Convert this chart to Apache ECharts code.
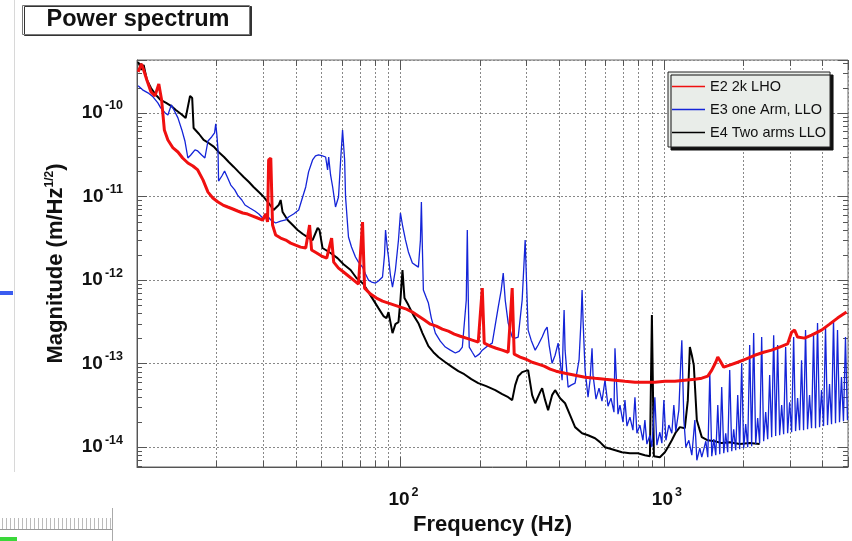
<!DOCTYPE html>
<html>
<head>
<meta charset="utf-8">
<script src="https://cdn.jsdelivr.net/npm/echarts@6/dist/echarts.min.js"></script>
<style>
  html, body { margin: 0; padding: 0; background: #fff; }
  #chart { width: 852px; height: 541px; }
</style>
</head>
<body>
<div id="chart"></div>
<script>
// Frequency range (Hz) and magnitude range (m/Hz^1/2)
const freqRange = [10, 5000];
const magRange = [5.8e-15, 4.3e-10];

// Minor grid / tick positions
const xMinorTicks = [20, 30, 40, 50, 60, 70, 80, 90, 200, 300, 400, 500, 600, 700, 800, 900, 2000, 3000, 4000];
const yMinorTicks = [6e-15, 7e-15, 8e-15, 9e-15,
  2e-14, 3e-14, 4e-14, 5e-14, 6e-14, 7e-14, 8e-14, 9e-14,
  2e-13, 3e-13, 4e-13, 5e-13, 6e-13, 7e-13, 8e-13, 9e-13,
  2e-12, 3e-12, 4e-12, 5e-12, 6e-12, 7e-12, 8e-12, 9e-12,
  2e-11, 3e-11, 4e-11, 5e-11, 6e-11, 7e-11, 8e-11, 9e-11,
  2e-10, 3e-10, 4e-10];

const seriesNames = ['E2 2k LHO', 'E3 one Arm, LLO', 'E4 Two arms LLO'];

// E2 2k LHO  [frequency Hz, magnitude]
const e2Lho = [
  [10.1,3.10e-10],[10.4,3.86e-10],[10.6,3.27e-10],[10.9,2.48e-10],[11.3,1.78e-10],[11.7,1.60e-10],
  [12.1,2.22e-10],[12.4,1.43e-10],[12.7,6.26e-11],[13.1,4.75e-11],[13.7,3.81e-11],[14.3,3.41e-11],
  [14.9,2.89e-11],[15.6,2.52e-11],[16.3,2.32e-11],[17.0,2.08e-11],[17.8,1.58e-11],[18.6,1.13e-11],
  [19.4,9.60e-12],[20.3,8.60e-12],[21.2,7.91e-12],[22.1,7.49e-12],[23.1,7.09e-12],[24.1,6.71e-12],
  [25.2,6.35e-12],[26.3,6.17e-12],[27.5,5.84e-12],[28.7,5.53e-12],[30.0,5.23e-12],[30.8,6.17e-12],
  [31.3,4.95e-12],[31.6,2.74e-11],[32.2,2.89e-11],[32.7,4.56e-12],[33.6,3.46e-12],[35.1,3.18e-12],
  [36.7,3.01e-12],[38.3,2.77e-12],[40.0,2.62e-12],[41.8,2.48e-12],[43.7,2.42e-12],[45.2,4.56e-12],
  [46.0,2.29e-12],[48.1,2.11e-12],[50.2,1.94e-12],[52.5,1.83e-12],[54.8,3.18e-12],[55.8,1.64e-12],
  [58.2,1.39e-12],[60.8,1.25e-12],[63.5,1.12e-12],[66.4,1.0e-12],[69.3,8.96e-13],[71.8,4.95e-12],
  [73.1,8.02e-13],[77.0,6.80e-13],[81.1,6.09e-13],[85.5,5.60e-13],[90.1,5.30e-13],[94.9,5.02e-13],
  [100,4.75e-13],[105.4,4.49e-13],[111,4.14e-13],[117,3.71e-13],[123.3,3.32e-13],[129.9,2.97e-13],
  [136.9,2.81e-13],[144.2,2.59e-13],[152,2.45e-13],[160.1,2.26e-13],[168.8,2.13e-13],[177.8,2.02e-13],
  [187.4,1.91e-13],[197.4,1.81e-13],[204.5,8.02e-13],[208,1.76e-13],[219.3,1.62e-13],[231,1.53e-13],
  [243.4,1.45e-13],[256.5,1.37e-13],[265.6,8.02e-13],[270.3,1.30e-13],[284.8,1.20e-13],[300.1,1.13e-13],
  [316.2,1.04e-13],[333.2,9.86e-14],[351.1,9.33e-14],[370,8.59e-14],[389.9,8.13e-14],[421.7,7.69e-14],
  [460.2,7.28e-14],[502.2,6.89e-14],[548,6.70e-14],[597.7,6.52e-14],[652.2,6.35e-14],[711.6,6.17e-14],
  [776.6,6.00e-14],[847.2,6.00e-14],[924.5,6.00e-14],[1009,6.17e-14],[1101,6.17e-14],[1201,6.35e-14],
  [1311,6.52e-14],[1393,6.70e-14],[1468,7.08e-14],[1520,8.36e-14],[1574,1.04e-13],[1602,1.20e-13],
  [1630,1.10e-13],[1688,9.08e-14],[1778,9.59e-14],[1907,1.04e-13],[2045,1.13e-13],[2212,1.26e-13],
  [2392,1.37e-13],[2565,1.45e-13],[2750,1.58e-13],[2949,1.72e-13],[3053,2.38e-13],[3135,2.52e-13],
  [3218,2.08e-13],[3420,2.02e-13],[3636,2.19e-13],[3968,2.52e-13],[4256,2.97e-13],[4562,3.51e-13],
  [4935,4.14e-13]
];

// E3 one Arm, LLO
const e3OneArm = [
  [10.1,2.11e-10],[10.5,1.89e-10],[11.0,1.74e-10],[11.5,1.56e-10],[12.0,1.32e-10],[12.3,1.15e-10],
  [12.8,1.0e-10],[13.1,9.47e-11],[13.5,1.25e-10],[13.8,1.09e-10],[14.3,8.72e-11],[14.8,6.26e-11],
  [15.2,4.62e-11],[15.6,2.89e-11],[16.0,3.14e-11],[16.6,3.61e-11],[17.0,3.51e-11],[17.6,3.14e-11],
  [18.1,2.89e-11],[18.6,4.62e-11],[19.2,5.16e-11],[19.7,5.77e-11],[19.9,7.39e-11],[20.1,5.46e-11],
  [20.3,3.61e-11],[20.4,1.53e-11],[21.0,1.76e-11],[21.5,2.02e-11],[22.1,1.67e-11],[22.7,1.37e-11],
  [23.5,1.20e-11],[24.1,1.04e-11],[25.0,9.09e-12],[25.7,7.92e-12],[26.8,7.29e-12],[28.0,6.71e-12],
  [29.0,6.18e-12],[30.0,5.53e-12],[30.8,6.18e-12],[32.2,5.24e-12],[33.6,4.82e-12],[35.1,5.09e-12],
  [36.7,5.24e-12],[37.6,5.69e-12],[39.3,6.18e-12],[41.1,6.90e-12],[42.2,9.09e-12],[43.7,1.30e-11],
  [44.8,1.97e-11],[46.4,2.74e-11],[47.6,3.06e-11],[48.9,3.14e-11],[50.6,3.06e-11],[52.0,2.97e-11],
  [52.9,2.08e-11],[53.4,2.97e-11],[54.3,1.81e-11],[55.3,1.30e-11],[56.7,7.49e-12],[58.2,9.87e-12],
  [59.3,2.74e-11],[60.3,6.26e-11],[61.4,2.74e-11],[61.9,9.87e-12],[63.5,3.28e-12],[65.2,2.49e-12],
  [67.5,1.89e-12],[69.3,1.64e-12],[71.8,1.43e-12],[73.7,1.18e-12],[75.6,1.0e-12],[77.7,9.47e-13],
  [80.4,9.22e-13],[82.5,9.74e-13],[85.5,1.09e-12],[87.0,1.99e-12],[87.8,3.97e-12],[89.3,2.29e-12],
  [90.1,1.89e-12],[91.6,1.15e-12],[93.3,8.25e-13],[95.7,1.32e-12],[98.3,3.02e-12],[100,6.35e-12],
  [101.8,4.56e-12],[104.5,3.02e-12],[107.2,2.17e-12],[111.0,1.60e-12],[114.0,1.51e-12],[117.0,1.43e-12],
  [119.1,3.02e-12],[120.1,8.60e-12],[121.2,2.29e-12],[122.2,7.60e-13],[125.5,6.09e-13],[127.7,5.31e-13],
  [131.0,3.51e-13],[135.7,2.32e-13],[141.7,1.86e-13],[148.1,1.58e-13],[154.7,1.45e-13],[161.6,1.34e-13],
  [167.3,1.41e-13],[171.8,1.58e-13],[177.8,5.77e-13],[179.4,3.97e-12],[181.0,5.77e-13],[182.5,1.58e-13],
  [187.4,1.37e-13],[192.3,1.20e-13],[199.2,1.30e-13],[204.5,1.45e-13],[213.6,1.62e-13],[223.1,1.76e-13],
  [229.0,2.89e-13],[235.1,4.75e-13],[241.3,7.60e-13],[245.6,1.21e-12],[249.9,5.77e-13],[256.5,3.06e-13],
  [265.6,2.08e-13],[272.7,2.02e-13],[279.9,2.08e-13],[289.8,5.77e-13],[294.9,1.74e-12],[297.5,3.02e-12],
  [300.1,1.32e-12],[305.3,2.52e-13],[313.5,1.91e-13],[324.7,1.45e-13],[333.2,1.67e-13],[345.1,2.08e-13],
  [354.2,2.52e-13],[360.5,2.74e-13],[366.8,1.67e-13],[376.4,1.01e-13],[386.5,1.26e-13],[396.8,1.76e-13],
  [403.7,1.10e-13],[410.9,6.35e-14],[414.5,1.91e-13],[418.1,4.38e-13],[421.7,1.45e-13],[433.0,5.24e-14],
  [444.5,5.53e-14],[460.2,5.85e-14],[476.4,1.10e-13],[484.8,3.32e-13],[489.3,7.60e-13],[493.4,3.32e-13],
  [502.2,8.37e-14],[515.4,3.97e-14],[524.5,6.35e-14],[533.7,1.53e-13],[538.4,7.29e-14],
  [552.6,3.76e-14],[567.3,5.09e-14],[582.3,3.56e-14],[597.7,6.35e-14],[613.7,3.10e-14],[629.9,3.87e-14],
  [646.6,2.63e-14],[652.2,1.53e-13],[669.7,2.49e-14],[681.3,3.19e-14],[699.4,1.99e-14],[711.7,3.66e-14],
  [724.2,1.79e-14],[743.4,2.29e-14],[763.1,1.60e-14],[776.6,3.97e-14],[790.1,1.47e-14],[811.1,1.84e-14],
  [832.6,1.21e-14],[847.2,2.11e-14],[862.2,1.09e-14],[885.1,1.39e-14],[900.6,1.0e-14],[924.5,3.97e-14],
  [940.8,1.06e-14],[965.6,1.51e-14],[982.7,1.12e-14],[1000,3.66e-14],[1018,1.21e-14],[1044.5,1.84e-14],
  [1072,1.47e-14],[1091,3.19e-14],[1110,1.56e-14],[1140,2.78e-14],[1160,1.10e-13],[1170,1.91e-13],
  [1191,2.11e-14],[1212,1.0e-14],[1244,1.21e-14],[1277,8.03e-15],[1311,2.11e-14],[1334,6.99e-15],
  [1369,9.74e-15],[1393,7.60e-15],
  [1417,7.60e-15],[1443,1.18e-14],[1468,7.60e-15],[1494,7.70e-14],[1520,7.81e-15],[1547,1.25e-14],
  [1574,8.03e-15],[1602,3.19e-14],[1630,8.25e-15],[1658,5.24e-14],[1688,8.48e-15],[1717,1.47e-14],
  [1747,8.72e-15],[1778,8.37e-14],[1810,8.97e-15],[1841,1.64e-14],[1874,9.22e-15],[1907,4.20e-14],
  [1940,9.47e-15],[1974,1.01e-13],[2009,9.74e-15],[2045,1.89e-14],[2081,1.0e-14],[2117,1.67e-13],
  [2154,1.03e-14],[2192,2.32e-13],[2231,1.09e-14],[2270,2.23e-14],[2310,1.12e-14],[2351,2.08e-13],
  [2392,1.18e-14],[2435,2.63e-14],[2478,1.25e-14],[2521,7.29e-14],[2566,1.32e-14],[2611,2.19e-13],
  [2657,1.36e-14],[2703,1.67e-13],[2751,1.39e-14],[2800,3.19e-14],[2849,1.43e-14],[2899,1.58e-13],
  [2950,1.47e-14],[3002,3.46e-14],[3055,1.51e-14],[3109,2.08e-13],[3162,1.56e-14],[3218,3.87e-14],
  [3275,1.60e-14],[3332,1.10e-13],[3391,1.60e-14],[3450,2.52e-13],[3511,1.64e-14],[3573,4.20e-14],
  [3636,1.69e-14],[3700,2.19e-13],[3765,1.69e-14],[3831,3.06e-13],[3899,1.74e-14],[3968,4.82e-14],
  [4038,1.79e-14],[4108,2.74e-13],[4181,1.84e-14],[4255,5.69e-14],[4330,1.89e-14],[4405,3.32e-13],
  [4483,1.94e-14],[4562,2.52e-13],[4642,1.99e-14],[4723,6.90e-14],[4806,2.05e-14],[4891,2.08e-13],
  [4977,2.11e-14]
];

// E4 Two arms LLO
const e4TwoArms = [
  [10.1,4.08e-10],[10.4,3.27e-10],[10.6,3.76e-10],[10.9,2.48e-10],[11.3,1.99e-10],[11.8,1.64e-10],
  [12.3,1.43e-10],[12.9,1.32e-10],[13.5,1.21e-10],[14.0,1.09e-10],[14.7,9.73e-11],[15.3,8.71e-11],
  [15.9,1.60e-10],[16.2,1.51e-10],[16.4,6.61e-11],[17.2,5.60e-11],[17.9,4.75e-11],[18.7,4.37e-11],
  [19.6,3.92e-11],[20.4,3.41e-11],[21.4,2.97e-11],[22.3,2.59e-11],[23.3,2.26e-11],[24.3,1.97e-11],
  [25.4,1.71e-11],[26.6,1.49e-11],[27.7,1.30e-11],[29.0,1.13e-11],[30.3,9.86e-12],[31.6,8.36e-12],
  [33.0,6.89e-12],[34.5,7.91e-12],[35.1,9.08e-12],[35.7,6.52e-12],[37.3,5.23e-12],[39.0,4.56e-12],
  [40.7,3.97e-12],[42.6,3.56e-12],[44.4,3.27e-12],[46.4,3.01e-12],[48.5,4.20e-12],[49.3,3.97e-12],
  [50.6,2.42e-12],[54.3,2.11e-12],[57.7,1.83e-12],[60.8,1.55e-12],[64.7,1.32e-12],[68.1,1.06e-12],
  [72.4,8.96e-13],[75.6,7.18e-13],[79.0,5.76e-13],[82.5,4.62e-13],[86.2,3.71e-13],[88.5,3.51e-13],
  [90.1,4.14e-13],[93.3,2.32e-13],[95.7,2.97e-13],[98.3,3.14e-13],[100,5.76e-13],[101.8,1.32e-12],
  [103.6,6.09e-13],[107.2,5.02e-13],[112.0,3.81e-13],[117.0,3.05e-13],[121.2,2.32e-13],[127.7,1.62e-13],
  [133.4,1.37e-13],[139.3,1.20e-13],[148.1,1.04e-13],[157.4,9.08e-14],[165.9,8.13e-14],[174.7,7.48e-14],
  [185.8,6.52e-14],[197.4,5.84e-14],[211.7,5.38e-14],[229.0,4.82e-14],[243.4,4.31e-14],[256.5,3.97e-14],
  [265.6,3.66e-14],[272.7,5.53e-14],[279.9,7.08e-14],[289.8,7.91e-14],[305.3,8.36e-14],[316.2,4.20e-14],
  [324.7,3.36e-14],[339.1,4.56e-14],[345.1,5.09e-14],[354.2,3.66e-14],[363.6,2.77e-14],[376.4,4.20e-14],
  [386.5,4.82e-14],[403.7,3.86e-14],[421.7,3.36e-14],[440.5,2.42e-14],[460.2,1.74e-14],[489.3,1.47e-14],
  [515.4,1.39e-14],[548,1.28e-14],[572.3,1.15e-14],[597.7,1.0e-14],[635.3,9.46e-15],[693.3,8.71e-15],
  [743.3,8.47e-15],[797.0,8.47e-15],[847.2,8.02e-15],[885.1,7.80e-15],[900.6,3.81e-13],[916.5,7.80e-15],
  [965.6,7.59e-15],[1009,8.71e-15],[1036,1.0e-14],[1072,1.21e-14],[1110,1.51e-14],[1150,1.74e-14],
  [1201,1.69e-14],[1233,3.66e-14],[1255,1.58e-13],[1277,1.26e-13],[1299,9.59e-14],[1334,2.10e-14],
  [1393,1.32e-14],[1468,1.21e-14],[1561,1.18e-14],[1659,1.12e-14],[1778,1.15e-14],[1941,1.09e-14],
  [2118,1.12e-14],[2310,1.09e-14]
];

const FONT = '"Liberation Sans", Arial, sans-serif';

function powerLabel(v, skip) {
  const lg = Math.log10(v);
  const e = Math.round(lg);
  if (Math.abs(lg - e) > 1e-6 || skip.indexOf(e) >= 0) return '';
  return '{b|10}{s|' + e + '}';
}

const labelRich = {
  b: { fontFamily: FONT, fontWeight: 'bold', fontSize: 19, color: '#111', padding: [0, 0, 0, 6] },
  s: { fontFamily: FONT, fontWeight: 'bold', fontSize: 12.5, color: '#111', padding: [0, 0, 14, 2] }
};

const chart = echarts.init(document.getElementById('chart'), null, { renderer: 'canvas' });

const gridBox = { left: 137, top: 60, width: 711, height: 407 };

const option = {
  animation: false,
  backgroundColor: '#fff',
  grid: Object.assign({
    show: true, borderColor: '#666', borderWidth: 1, backgroundColor: '#fff',
    containLabel: false, outerBoundsMode: 'none'
  }, gridBox),
  legend: {
    data: seriesNames,
    orient: 'vertical',
    left: 668, top: 72,
    icon: 'rect',
    itemWidth: 33, itemHeight: 1.5,
    itemGap: 8,
    padding: [7, 4, 7, 4],
    backgroundColor: '#e9ede9',
    borderColor: '#222', borderWidth: 1,
    shadowColor: '#111', shadowOffsetX: 3, shadowOffsetY: 3, shadowBlur: 0,
    textStyle: { fontFamily: FONT, fontSize: 14.5, color: '#111' }
  },
  xAxis: [{
    type: 'log', logBase: 10, min: freqRange[0], max: freqRange[1],
    axisLine: { show: true, lineStyle: { color: '#555' } },
    axisTick: { show: true, inside: true, length: 10, lineStyle: { color: '#555' } },
    splitLine: { show: true, lineStyle: { color: '#888', type: [2, 2] } },
    axisLabel: { margin: 19, formatter: v => powerLabel(v, [1]), rich: labelRich },
    name: 'Frequency (Hz)', nameLocation: 'middle', nameGap: 45,
    nameTextStyle: { fontFamily: FONT, fontWeight: 'bold', fontSize: 22, color: '#111' }
  }, {
    type: 'log', logBase: 10, min: freqRange[0], max: freqRange[1], position: 'top',
    axisLine: { show: false },
    axisTick: { show: true, inside: true, length: 10, lineStyle: { color: '#555' } },
    axisLabel: { show: false }, splitLine: { show: false }
  }],
  yAxis: [{
    type: 'log', logBase: 10, min: magRange[0], max: magRange[1],
    axisLine: { show: true, lineStyle: { color: '#555' } },
    axisTick: { show: true, inside: true, length: 10, lineStyle: { color: '#555' } },
    splitLine: { show: true, lineStyle: { color: '#888', type: [2, 2] } },
    axisLabel: { margin: 14, formatter: v => powerLabel(v, []), rich: labelRich },
    name: '{n|Magnitude (m/Hz}{s|1/2}{n|)}', nameLocation: 'middle', nameGap: 69,
    nameTextStyle: {
      rich: {
        n: { fontFamily: FONT, fontWeight: 'bold', fontSize: 22, color: '#111' },
        s: { fontFamily: FONT, fontWeight: 'bold', fontSize: 12, color: '#111', padding: [0, 0, 12, 0] }
      }
    }
  }, {
    type: 'log', logBase: 10, min: magRange[0], max: magRange[1], position: 'right',
    axisLine: { show: false },
    axisTick: { show: true, inside: true, length: 10, lineStyle: { color: '#555' } },
    axisLabel: { show: false }, splitLine: { show: false }
  }],
  series: [
    {
      // vertical minor grid lines with their ticks (top and bottom)
      type: 'custom', silent: true, z: 1, xAxisIndex: 0, yAxisIndex: 0,
      data: xMinorTicks.map(f => [f, magRange[0]]),
      renderItem(params, api) {
        const cs = params.coordSys;
        const x = Math.round(api.coord([api.value(0), magRange[0]])[0]) + 0.5;
        return {
          type: 'group', children: [
            { type: 'line', shape: { x1: x, y1: cs.y, x2: x, y2: cs.y + cs.height }, style: { stroke: '#888', lineWidth: 1, lineDash: [2, 2] } },
            { type: 'line', shape: { x1: x, y1: cs.y + cs.height, x2: x, y2: cs.y + cs.height - 6 }, style: { stroke: '#555', lineWidth: 1 } },
            { type: 'line', shape: { x1: x, y1: cs.y, x2: x, y2: cs.y + 6 }, style: { stroke: '#555', lineWidth: 1 } }
          ]
        };
      }
    },
    {
      // minor ticks on left and right frame
      type: 'custom', silent: true, z: 1, xAxisIndex: 0, yAxisIndex: 0,
      data: yMinorTicks.map(v => [freqRange[0], v]),
      renderItem(params, api) {
        const cs = params.coordSys;
        const y = Math.round(api.coord([freqRange[0], api.value(1)])[1]) + 0.5;
        return {
          type: 'group', children: [
            { type: 'line', shape: { x1: cs.x, y1: y, x2: cs.x + 5, y2: y }, style: { stroke: '#555', lineWidth: 1 } },
            { type: 'line', shape: { x1: cs.x + cs.width, y1: y, x2: cs.x + cs.width - 5, y2: y }, style: { stroke: '#555', lineWidth: 1 } }
          ]
        };
      }
    },
    {
      name: seriesNames[2], type: 'line', data: e4TwoArms, symbol: 'none', z: 3,
      color: '#000', lineStyle: { color: '#000', width: 2 }, silent: true
    },
    {
      name: seriesNames[1], type: 'line', data: e3OneArm, symbol: 'none', z: 4,
      color: '#1424d8', lineStyle: { color: '#1424d8', width: 1.3 }, silent: true
    },
    {
      name: seriesNames[0], type: 'line', data: e2Lho, symbol: 'none', z: 5,
      color: '#f01010', lineStyle: { color: '#f01010', width: 3 }, silent: true
    }
  ],
  graphic: [
    // title box
    { type: 'rect', shape: { x: 22.5, y: 5.5, width: 227, height: 29 }, z: 10,
      style: { fill: '#fff', stroke: '#777', lineWidth: 1, shadowColor: '#333', shadowOffsetX: 2, shadowOffsetY: 1, shadowBlur: 0 } },
    { type: 'text', x: 138, y: 20, z: 11,
      style: { text: 'Power spectrum', font: 'bold 23.5px ' + FONT, fill: '#111', textAlign: 'center', textVerticalAlign: 'middle' } },
    // page decorations at the left edge
    { type: 'line', shape: { x1: 14.5, y1: 0, x2: 14.5, y2: 472 }, style: { stroke: '#d8d8d8', lineWidth: 1 } },
    { type: 'rect', shape: { x: 0, y: 291, width: 13, height: 4 }, style: { fill: '#3a5cf0' } },
    // ruler fragment at the bottom left
    { type: 'line', shape: { x1: 0, y1: 529.5, x2: 112, y2: 529.5 }, style: { stroke: '#999', lineWidth: 1 } },
    { type: 'line', shape: { x1: 112.5, y1: 508, x2: 112.5, y2: 541 }, style: { stroke: '#aaa', lineWidth: 1 } },
    { type: 'group', children: Array.from({ length: 28 }, (_, i) => ({
        type: 'line', shape: { x1: 2.5 + i * 4, y1: 518, x2: 2.5 + i * 4, y2: 529 }, style: { stroke: '#bbb', lineWidth: 1 }
      })) },
    { type: 'rect', shape: { x: 0, y: 537, width: 17, height: 4 }, style: { fill: '#3ad83a' } }
  ]
};

chart.setOption(option);
</script>
</body>
</html>
